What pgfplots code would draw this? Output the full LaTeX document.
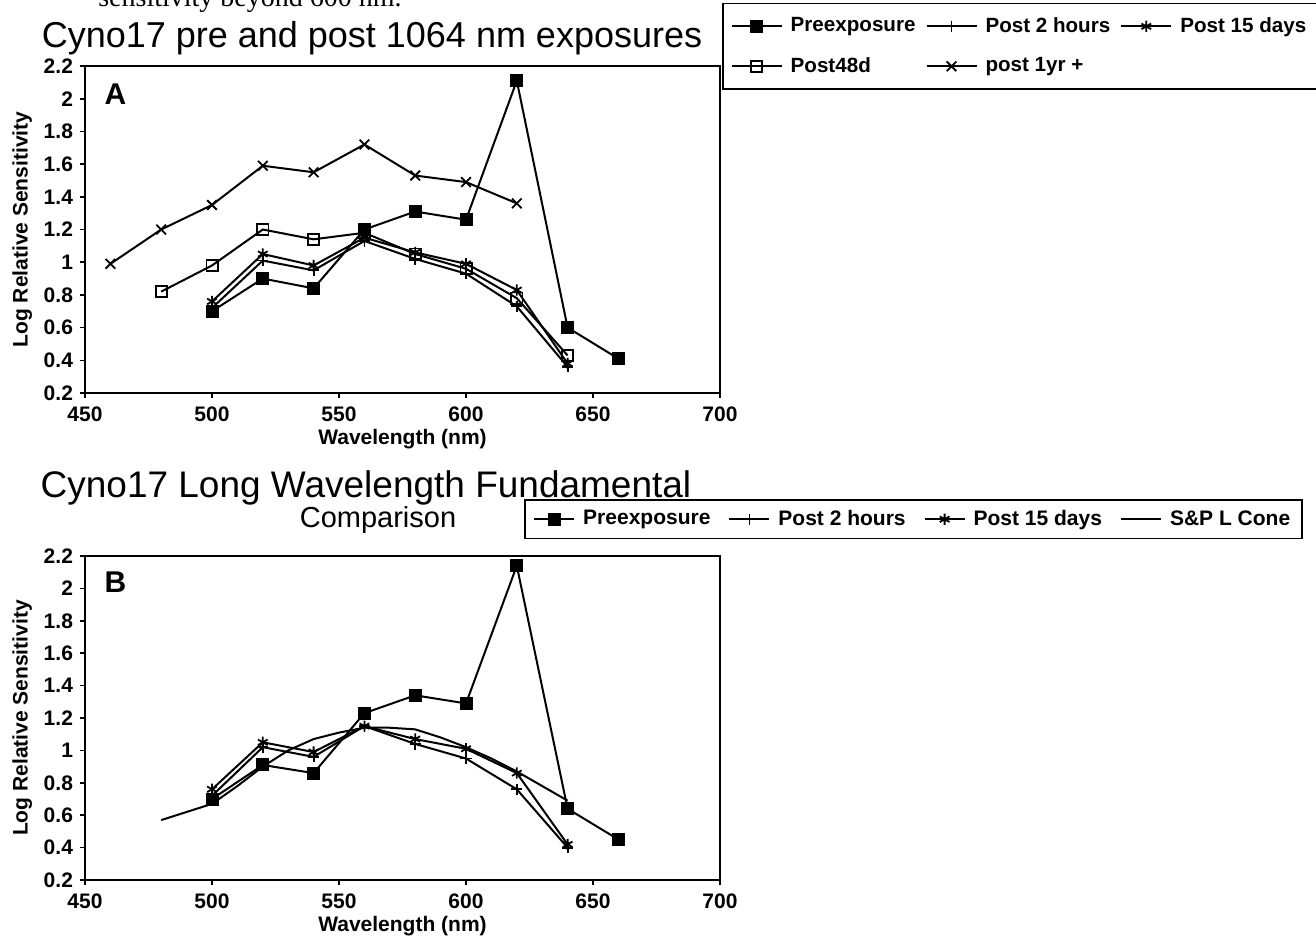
\documentclass[border=0pt]{standalone}
\usepackage{pgfplots}
\pgfplotsset{compat=1.18}
\usepackage{fontspec}
\setmainfont{Liberation Sans}
\newfontfamily\serifont{Liberation Serif}

\begin{document}
\begin{tikzpicture}
\useasboundingbox (0pt,0pt) rectangle (658pt,-469pt);
\clip (0pt,0pt) rectangle (658pt,-469pt);
\pgfplotsset{
  panel/.style={
    scale only axis, width=317.5pt,
    xmin=450,xmax=700,ymin=0.2,ymax=2.2,
    xtick={450,500,550,600,650,700},
    ytick={0.2,0.4,0.6,0.8,1,1.2,1.4,1.6,1.8,2,2.2},
    tick align=outside, xtick pos=left, ytick pos=left,
    major tick length=2.5pt,
    tick style={black, line width=0.8pt},
    tick label style={font=\fontsize{10.5}{12}\selectfont\bfseries},
    xticklabel style={yshift=-1pt},
    /pgf/number format/assume math mode=true,
    xlabel={Wavelength (nm)}, ylabel={Log Relative Sensitivity},
    label style={font=\fontsize{10.5}{12}\selectfont\bfseries},
    xlabel style={yshift=3pt},
    ylabel style={yshift=-1pt},
    axis line style={line width=1pt},
    every axis plot/.append style={black, line width=1pt, mark size=2.8pt, mark options={solid, line width=0.9pt}},
    legend cell align=left,
    legend style={draw=black, line width=0.8pt, font=\fontsize{10.3}{12}\selectfont\bfseries,
      inner sep=4pt,
      /tikz/every odd column/.append style={column sep=2pt},
      /tikz/every even column/.append style={column sep=3pt}},
    clip=false,
  }
}
\node[font=\fontsize{14}{16}\selectfont\serifont, anchor=base] at (125pt,-3pt) {sensitivity beyond 600 nm.};
\node[font=\fontsize{18}{20}\selectfont, anchor=center] at (186pt,-19pt) {Cyno17 pre and post 1064 nm exposures};
\node[font=\fontsize{18.5}{20}\selectfont, anchor=center] at (183pt,-244pt) {Cyno17 Long Wavelength Fundamental};
\node[font=\fontsize{14.5}{16}\selectfont, anchor=center] at (189pt,-260pt) {Comparison};

\begin{axis}[panel, height=163.5pt, at={(42.5pt,-196.5pt)}, anchor=south west,
  legend columns=3,
  legend image code/.code={\draw[mark repeat=2,mark phase=2] plot coordinates {(0pt,0pt) (12.5pt,0pt) (25pt,0pt)};},
  legend style={at={(1.003,1.194)}, anchor=north west, row sep=7pt, inner ysep=5pt}]
\addplot[mark=square*] coordinates {(500,0.70) (520,0.90) (540,0.84) (560,1.20) (580,1.31) (600,1.26) (620,2.11) (640,0.60) (660,0.41)};
\addlegendentry{Preexposure}
\addplot[mark=+] coordinates {(500,0.72) (520,1.01) (540,0.95) (560,1.13) (580,1.02) (600,0.93) (620,0.73) (640,0.36)};
\addlegendentry{Post 2 hours}
\addplot[mark=asterisk] coordinates {(500,0.76) (520,1.05) (540,0.98) (560,1.15) (580,1.06) (600,0.99) (620,0.83) (640,0.38)};
\addlegendentry{Post 15 days}
\addplot[mark=square] coordinates {(480,0.82) (500,0.98) (520,1.20) (540,1.14) (560,1.18) (580,1.05) (600,0.96) (620,0.78) (640,0.43)};
\addlegendentry{Post48d}
\addplot[mark=x, mark size=3.4pt] coordinates {(460,0.99) (480,1.20) (500,1.35) (520,1.59) (540,1.55) (560,1.72) (580,1.53) (600,1.49) (620,1.36)};
\addlegendentry{post 1yr +}
\node[font=\fontsize{15}{17}\selectfont\bfseries] at (axis cs:462,2.03) {A};
\end{axis}

\begin{axis}[panel, height=162pt, at={(42.5pt,-440pt)}, anchor=south west,
  legend columns=4,
  legend image code/.code={\draw[mark repeat=2,mark phase=2] plot coordinates {(0pt,0pt) (10pt,0pt) (20pt,0pt)};},
  legend style={at={(0.692,1.175)}, anchor=north west, inner ysep=3pt,
    font=\fontsize{10.5}{12}\selectfont\bfseries,
    /tikz/every even column/.append style={column sep=7pt}}]
\addplot[mark=square*] coordinates {(500,0.70) (520,0.91) (540,0.86) (560,1.23) (580,1.34) (600,1.29) (620,2.14) (640,0.64) (660,0.45)};
\addlegendentry{Preexposure}
\addplot[mark=+] coordinates {(500,0.72) (520,1.02) (540,0.96) (560,1.15) (580,1.04) (600,0.95) (620,0.76) (640,0.40)};
\addlegendentry{Post 2 hours}
\addplot[mark=asterisk] coordinates {(500,0.76) (520,1.05) (540,0.99) (560,1.15) (580,1.07) (600,1.01) (620,0.86) (640,0.42)};
\addlegendentry{Post 15 days}
\addplot[no marks] coordinates {(480,0.57) (490,0.62) (500,0.67) (510,0.78) (520,0.90) (530,1.00) (540,1.07) (550,1.11) (560,1.14) (570,1.14) (580,1.13) (590,1.08) (600,1.02) (610,0.95) (620,0.87) (630,0.78) (640,0.69)};
\addlegendentry{S\&P L Cone}
\node[font=\fontsize{15}{17}\selectfont\bfseries] at (axis cs:462,2.04) {B};
\end{axis}
\end{tikzpicture}
\end{document}
